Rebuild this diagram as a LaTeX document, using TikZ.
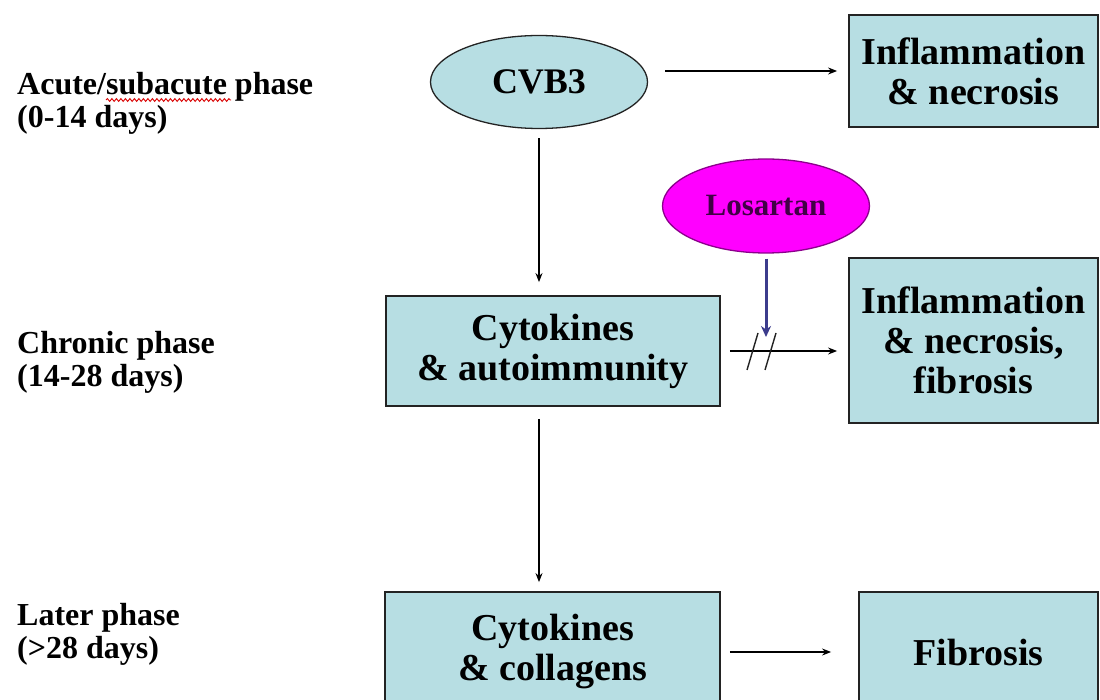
\documentclass[tikz,border=0pt]{standalone}
\usepackage{fontspec}
\setmainfont{Liberation Serif}
\usetikzlibrary{arrows.meta,decorations.pathmorphing,shapes.geometric}
\definecolor{boxfill}{RGB}{183,222,227}
\definecolor{losfill}{RGB}{255,0,255}
\definecolor{lostext}{RGB}{65,0,70}
\definecolor{losedge}{RGB}{140,0,140}
\definecolor{losarrow}{RGB}{60,60,140}
\definecolor{edgegray}{RGB}{35,35,35}
\begin{document}
\begin{tikzpicture}[x=1pt,y=-1pt,
  boxnode/.style={draw=edgegray, line width=1.8pt, fill=boxfill, align=center, inner sep=0pt,
    font=\fontsize{38}{40}\selectfont\bfseries},
  ovalnode/.style={ellipse, draw=edgegray, line width=1.3pt, fill=boxfill, inner sep=0pt,
    font=\fontsize{36}{38}\selectfont\bfseries},
  losnode/.style={ellipse, draw=losedge, line width=1.3pt, fill=losfill, inner sep=0pt,
    text=lostext, font=\fontsize{31}{33}\selectfont\bfseries},
  phase/.style={anchor=north west, align=left, inner sep=0pt,
    font=\fontsize{32}{33}\selectfont\bfseries},
  arr/.style={draw=black, line width=1.4pt, -{Stealth[length=9pt,width=7pt]}},
  losarr/.style={draw=losarrow, line width=3pt, -{Stealth[length=11pt,width=10pt]}},
  slash/.style={draw=edgegray, line width=1.4pt},
  squiggle/.style={draw=red!85!black, line width=0.9pt, decorate,
    decoration={snake, amplitude=1.4pt, segment length=4.5pt}}
]
\useasboundingbox (0,0) rectangle (1100,700);
\fill[white] (0,0) rectangle (1100,700);

% phase labels
\node[phase] (pa) at (17,72) {Acute/subacute phase\\(0-14 days)};
\node[phase] (pc) at (17,331) {Chronic phase\\(14-28 days)};
\node[phase] (pl) at (17,603) {Later phase\\(>28 days)};
\draw[squiggle] (106,100) -- (231,100);

% nodes
\node[ovalnode, minimum width=217pt, minimum height=93pt] (cvb) at (539,82) {CVB3};
\node[boxnode, minimum width=249pt, minimum height=112pt] (b1) at (973.5,71) {Inflammation\\\& necrosis};
\node[losnode, minimum width=207pt, minimum height=94pt] (los) at (766,206) {Losartan};
\node[boxnode, minimum width=334pt, minimum height=110pt] (b2) at (553,351) {Cytokines\\\& autoimmunity};
\node[boxnode, minimum width=249pt, minimum height=165pt] (b3) at (973.5,340.5) {Inflammation\\\& necrosis,\\fibrosis};
\node[boxnode, minimum width=335pt, minimum height=120pt] (b4) at (552.5,652) {Cytokines\\\& collagens};
\node[boxnode, minimum width=239pt, minimum height=120pt] (fib) at (978.5,652) {Fibrosis};

% connectors
\draw[arr, shorten <=17pt, shorten >=11pt] (cvb.east |- b1.west) -- (b1.west);
\draw[arr, shorten <=9pt, shorten >=13pt] (cvb.south) -- (cvb.south |- b2.north);
\draw[arr, shorten <=12pt, shorten >=9pt] (cvb.south |- b2.south) -- (cvb.south |- b4.north);
\draw[arr, shorten <=9pt, shorten >=11pt] (b2.east) -- (b2.east -| b3.west);
\draw[arr, shorten <=9pt, shorten >=27pt] (b4.east) -- (fib.west);

\coordinate (cut) at (los.south |- b2.east);
\draw[losarr, shorten <=5pt, shorten >=14pt] (los.south) -- (cut);
\draw[slash] ([shift={(-19,19)}]cut) -- ++(11,-37);
\draw[slash] ([shift={(-1,19)}]cut) -- ++(11,-37);
\end{tikzpicture}
\end{document}
